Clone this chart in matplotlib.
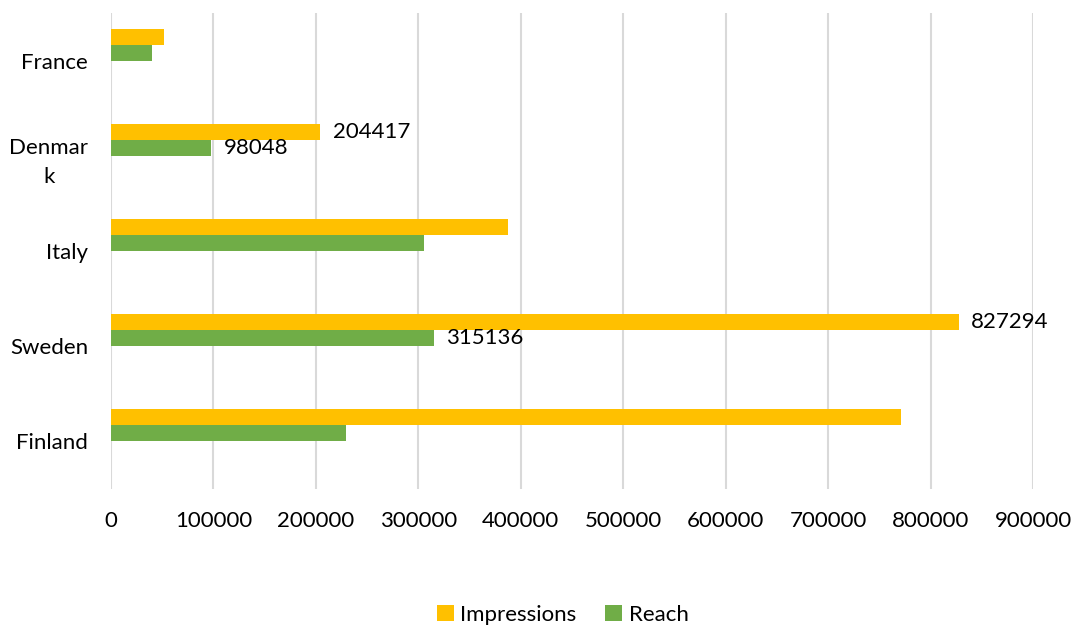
import matplotlib.pyplot as plt
import numpy as np

plt.rcParams['font.family'] = ['Lato', 'DejaVu Sans']

# Data (top to bottom as shown in the chart)
countries = ['France', 'Denmar\nk', 'Italy', 'Sweden', 'Finland']
impressions = [52000, 204417, 387200, 827294, 771400]
reach = [39700, 98048, 305500, 315136, 229700]
labeled = ['Denmar\nk', 'Sweden']

yellow = '#FFC000'
green = '#70AD47'
fs = 16

fig = plt.figure(figsize=(10.78, 6.25), dpi=100)
ax = fig.add_axes([0.103, 0.2176, 0.8553, 0.7616])

n = len(countries)
y = np.arange(n)[::-1]  # France on top
h = 0.168

b1 = ax.barh(y + 1.5 * h, impressions, height=h, color=yellow, label='Impressions', zorder=3)
b2 = ax.barh(y + 0.5 * h, reach, height=h, color=green, label='Reach', zorder=3)

# value labels only for some countries
lab1 = [f'{v}' if c in labeled else '' for c, v in zip(countries, impressions)]
lab2 = [f'{v}' if c in labeled else '' for c, v in zip(countries, reach)]
ax.bar_label(b1, labels=lab1, padding=9, fontsize=fs)
ax.bar_label(b2, labels=lab2, padding=9, fontsize=fs)

ax.set_xlim(0, 900000)
ax.set_ylim(-0.5, n - 0.5)
ax.set_xticks(np.arange(0, 900001, 100000))
ax.set_xticklabels([str(v) for v in range(0, 900001, 100000)])
ax.set_yticks(y)
ax.set_yticklabels(countries)
for lbl in ax.get_yticklabels():
    lbl.set_multialignment('center')
    lbl.set_linespacing(1.55)

ax.tick_params(axis='both', length=0, labelsize=fs, colors='#000000')
ax.tick_params(axis='x', pad=16)
ax.tick_params(axis='y', pad=16.5)

ax.grid(axis='x', color='#d9d9d9', linewidth=1.5, zorder=0)
ax.grid(axis='y', visible=False)
for s in ax.spines.values():
    s.set_visible(False)

fig.legend(handles=[b1, b2], loc='lower center', bbox_to_anchor=(0.522, -0.032),
           ncol=2, frameon=False, fontsize=fs, handlelength=0.75, handleheight=0.75,
           handletextpad=0.3, columnspacing=1.3)

fig.savefig('out.png', dpi=100)
